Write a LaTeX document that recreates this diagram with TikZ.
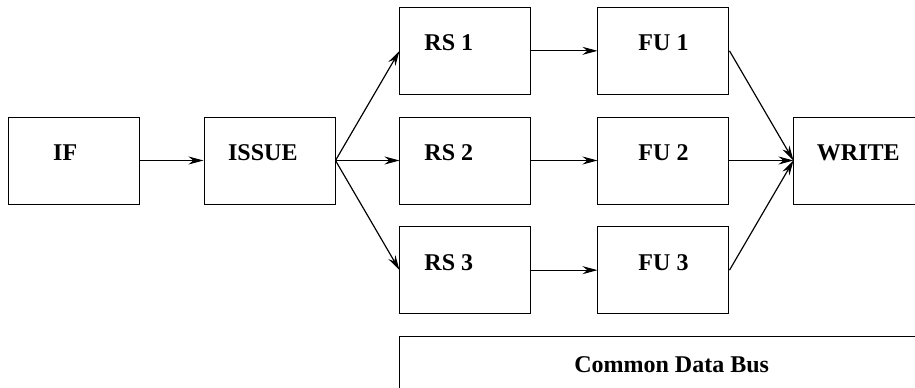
\documentclass[tikz,border=0pt]{standalone}
\usepackage{fontspec}
\setmainfont{Liberation Serif}
\usetikzlibrary{arrows.meta, positioning}
\tikzstyle{block} = [draw, fill=white, rectangle, minimum width=3.93cm, minimum height=2.61cm, text height=0.5cm, text depth=0.5cm]

\begin{document}
\begin{tikzpicture}[auto, node distance=0.65cm and 1.92cm, >={Stealth[length=0.45cm, width=0.24cm]}, line width=0.85pt, font=\fontsize{20.5}{24}\selectfont\bfseries]
    \useasboundingbox (0,0) rectangle (27.45,-11.64);
    \node [block] at (2.205,-4.815) (if) {IF\hspace*{0.5cm}};
    \node [block, right=of if] (issue) {ISSUE\hspace*{0.4cm}};
    \node [block, right=of issue] (rs2) {RS 2\hspace*{1cm}};
    \node [block, above=of rs2] (rs1) {RS 1\hspace*{1cm}};
    \node [block, below=of rs2] (rs3) {RS 3\hspace*{1cm}};
    \node [block, right=1.98cm of rs1] (fu1) {FU 1};
    \node [block, right=1.98cm of rs2] (fu2) {FU 2};
    \node [block, right=1.98cm of rs3] (fu3) {FU 3};
    \node [block, right=of fu2, minimum width=5cm] (write) {WRITE\hspace*{1.14cm}};
    \node [block, below=0.65cm of rs3.south west, anchor=north west, minimum width=16.3cm, minimum height=2.16cm] (cdb) {Common Data Bus};
    \draw [->, line width=1pt] (if) -- (issue);
    \draw [->, line width=1pt] (issue.east) -- (rs1.west);
    \draw [->, line width=1pt] (issue.east) -- (rs2.west);
    \draw [->, line width=1pt] (issue.east) -- (rs3.west);
    \draw [->, line width=1pt] (rs1) -- (fu1);
    \draw [->, line width=1pt] (rs2) -- (fu2);
    \draw [->, line width=1pt] (rs3) -- (fu3);
    \draw [->, line width=1pt] (fu1.east) -- (write.west);
    \draw [->, line width=1pt] (fu2.east) -- (write.west);
    \draw [->, line width=1pt] (fu3.east) -- (write.west);
\end{tikzpicture}
\end{document}
